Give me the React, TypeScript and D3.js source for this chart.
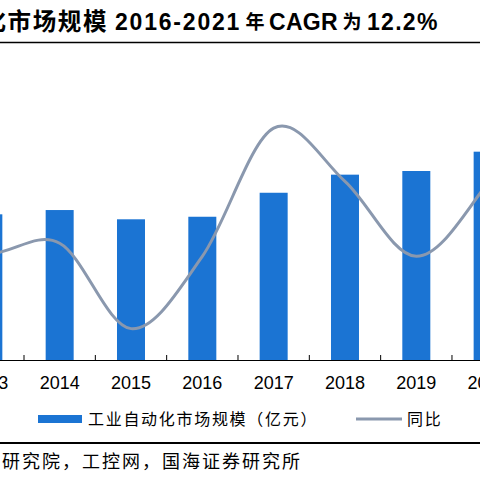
import React from "react";
import * as d3 from "d3";

const years = ["2012", "2013", "2014", "2015", "2016", "2017", "2018", "2019", "2020", "2021"];
const marketSize = [1380, 1433, 1475, 1384, 1409, 1645, 1823, 1859, 2049, 2530];
const yoyGrowth = [4.0, 2.2, 3.4, -6.4, 1.9, 16.6, 10.5, 1.9, 10.3, 23.0];
const titleHead = "图：中国工业自动化市场规模";
const titleLatin = ["2016-2021", "CAGR", "12.2%"];
const titleCjk = ["年", "为"];
const barLegend = "工业自动化市场规模（亿元）";
const lineLegend = "同比";
const sourceText = "资料来源：中国工控网研究院，工控网，国海证券研究所";

const W = 480;
const H = 480;
const BAR_COLOR = "#1B74D3";
const LINE_COLOR = "#8A98AE";

export default function App() {
  const step = 71.33;
  const firstTick = 24 - step;
  const x = d3
    .scaleBand<string>()
    .domain(years)
    .range([firstTick - step, firstTick - step + step * years.length])
    .paddingInner(0)
    .paddingOuter(0);
  const barW = 28;
  const yL = d3.scaleLinear().domain([0, 3000]).range([360, 55]);
  const yR = d3.scaleLinear().domain([-10, 25]).range([360, 55]);
  const cx = (d: string) => (x(d) as number) + x.bandwidth() / 2;

  const line = d3
    .line<number>()
    .x((_, i) => cx(years[i]))
    .y((v) => yR(v))
    .curve(d3.curveCardinal.tension(0));

  const ticks = years.map((y) => x(y) as number);
  const font = "'Liberation Sans', Arial, 'Noto Sans CJK SC', sans-serif";
  const latinStarts = [115, 269, 367];
  const latinSpacing = [1.8, 0.3, 1.3];
  const cjkCenters = [255, 352];

  return (
    <svg
      width={W}
      height={H}
      style={{ position: "absolute", left: 0, top: 0, background: "#fff" }}
    >
      <text
        x={108}
        y={30}
        textAnchor="end"
        fontFamily={font}
        fontWeight="bold"
        fontSize={23.5}
        letterSpacing={1.6}
        fill="#000"
      >
        {titleHead}
      </text>
      {titleLatin.map((p, i) => (
        <text
          key={p}
          x={latinStarts[i]}
          y={30}
          fontFamily={font}
          fontWeight="bold"
          fontSize={23}
          letterSpacing={latinSpacing[i]}
          fill="#000"
        >
          {p}
        </text>
      ))}
      {titleCjk.map((p, i) => (
        <text
          key={p}
          x={cjkCenters[i]}
          y={29}
          textAnchor="middle"
          fontFamily={font}
          fontWeight="bold"
          fontSize={19}
          fill="#000"
        >
          {p}
        </text>
      ))}
      <line x1={0} x2={W} y1={42.5} y2={42.5} stroke="#000" strokeWidth={1.5} />

      {years.map((yr, i) => (
        <rect
          key={yr}
          x={cx(yr) - barW / 2}
          y={yL(marketSize[i])}
          width={barW}
          height={360 - yL(marketSize[i])}
          fill={BAR_COLOR}
        />
      ))}

      <line x1={0} x2={W} y1={360.5} y2={360.5} stroke="#000" strokeWidth={1} />
      {ticks.map((t, i) => (
        <line key={i} x1={t} x2={t} y1={355} y2={360} stroke="#000" strokeWidth={1} />
      ))}

      <path d={line(yoyGrowth) || ""} fill="none" stroke={LINE_COLOR} strokeWidth={3} />

      {years.map((yr) => (
        <text
          key={yr}
          x={cx(yr)}
          y={389}
          textAnchor="middle"
          fontFamily={font}
          fontSize={18}
          fill="#000"
        >
          {yr}
        </text>
      ))}

      <rect x={38} y={415} width={44} height={8} fill={BAR_COLOR} />
      <text x={88} y={425} fontFamily={font} fontSize={16} letterSpacing={1.7} fill="#000">
        {barLegend}
      </text>
      <line x1={356} x2={402} y1={419} y2={419} stroke={LINE_COLOR} strokeWidth={3} />
      <text x={407} y={425} fontFamily={font} fontSize={16} letterSpacing={1.7} fill="#000">
        {lineLegend}
      </text>

      <line x1={0} x2={W} y1={443} y2={443} stroke="#000" strokeWidth={2} />
      <text
        x={302}
        y={468}
        textAnchor="end"
        fontFamily={font}
        fontSize={18}
        letterSpacing={2}
        fill="#000"
      >
        {sourceText}
      </text>
    </svg>
  );
}
